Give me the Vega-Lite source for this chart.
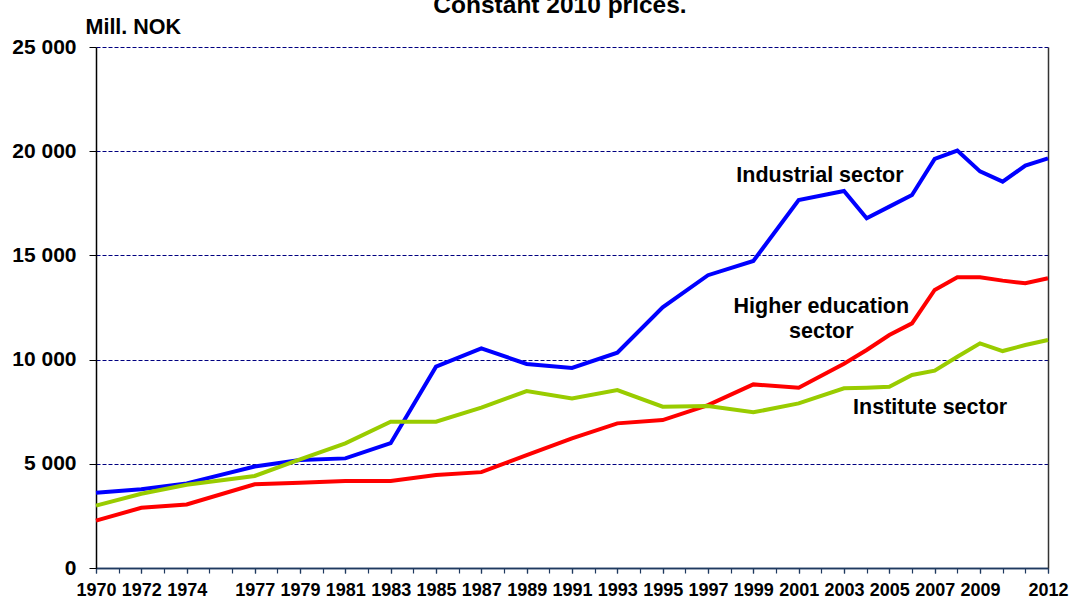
{
  "$schema": "https://vega.github.io/schema/vega-lite/v6.json",
  "autosize": {"type": "none"},
  "width": 952,
  "height": 521,
  "padding": {"left": 96, "top": 47, "right": 22, "bottom": 31},
  "background": "white",
  "config": {
    "font": "Liberation Sans",
    "view": {"stroke": null}
  },
  "title": {
    "text": "Constant 2010 prices.",
    "anchor": "middle",
    "frame": "group",
    "baseline": "alphabetic",
    "offset": 1,
    "dx": -12,
    "dy": 22,
    "fontSize": 24.5,
    "fontWeight": "bold",
    "color": "black"
  },
  "datasets": {
    "series": [
      {"year": 1970, "sector": "Industrial sector", "value": 3610},
      {"year": 1972, "sector": "Industrial sector", "value": 3780},
      {"year": 1974, "sector": "Industrial sector", "value": 4060},
      {"year": 1977, "sector": "Industrial sector", "value": 4870},
      {"year": 1979, "sector": "Industrial sector", "value": 5180},
      {"year": 1981, "sector": "Industrial sector", "value": 5260},
      {"year": 1983, "sector": "Industrial sector", "value": 5990},
      {"year": 1985, "sector": "Industrial sector", "value": 9660},
      {"year": 1987, "sector": "Industrial sector", "value": 10540},
      {"year": 1989, "sector": "Industrial sector", "value": 9790},
      {"year": 1991, "sector": "Industrial sector", "value": 9600},
      {"year": 1993, "sector": "Industrial sector", "value": 10330},
      {"year": 1995, "sector": "Industrial sector", "value": 12510},
      {"year": 1997, "sector": "Industrial sector", "value": 14050},
      {"year": 1999, "sector": "Industrial sector", "value": 14730},
      {"year": 2001, "sector": "Industrial sector", "value": 17660},
      {"year": 2003, "sector": "Industrial sector", "value": 18090},
      {"year": 2004, "sector": "Industrial sector", "value": 16780},
      {"year": 2005, "sector": "Industrial sector", "value": 17340},
      {"year": 2006, "sector": "Industrial sector", "value": 17900},
      {"year": 2007, "sector": "Industrial sector", "value": 19630},
      {"year": 2008, "sector": "Industrial sector", "value": 20030},
      {"year": 2009, "sector": "Industrial sector", "value": 19030},
      {"year": 2010, "sector": "Industrial sector", "value": 18540},
      {"year": 2011, "sector": "Industrial sector", "value": 19310},
      {"year": 2012, "sector": "Industrial sector", "value": 19660},
      {"year": 1970, "sector": "Higher education sector", "value": 2270},
      {"year": 1972, "sector": "Higher education sector", "value": 2890},
      {"year": 1974, "sector": "Higher education sector", "value": 3050},
      {"year": 1977, "sector": "Higher education sector", "value": 4015},
      {"year": 1979, "sector": "Higher education sector", "value": 4095},
      {"year": 1981, "sector": "Higher education sector", "value": 4175},
      {"year": 1983, "sector": "Higher education sector", "value": 4175},
      {"year": 1985, "sector": "Higher education sector", "value": 4460},
      {"year": 1987, "sector": "Higher education sector", "value": 4600},
      {"year": 1989, "sector": "Higher education sector", "value": 5420},
      {"year": 1991, "sector": "Higher education sector", "value": 6220},
      {"year": 1993, "sector": "Higher education sector", "value": 6940},
      {"year": 1995, "sector": "Higher education sector", "value": 7100},
      {"year": 1997, "sector": "Higher education sector", "value": 7820},
      {"year": 1999, "sector": "Higher education sector", "value": 8810},
      {"year": 2001, "sector": "Higher education sector", "value": 8650},
      {"year": 2003, "sector": "Higher education sector", "value": 9800},
      {"year": 2004, "sector": "Higher education sector", "value": 10460},
      {"year": 2005, "sector": "Higher education sector", "value": 11180},
      {"year": 2006, "sector": "Higher education sector", "value": 11740},
      {"year": 2007, "sector": "Higher education sector", "value": 13340},
      {"year": 2008, "sector": "Higher education sector", "value": 13950},
      {"year": 2009, "sector": "Higher education sector", "value": 13950},
      {"year": 2010, "sector": "Higher education sector", "value": 13790},
      {"year": 2011, "sector": "Higher education sector", "value": 13660},
      {"year": 2012, "sector": "Higher education sector", "value": 13900},
      {"year": 1970, "sector": "Institute sector", "value": 2990},
      {"year": 1972, "sector": "Institute sector", "value": 3560},
      {"year": 1974, "sector": "Institute sector", "value": 3990},
      {"year": 1977, "sector": "Institute sector", "value": 4415},
      {"year": 1979, "sector": "Institute sector", "value": 5216},
      {"year": 1981, "sector": "Institute sector", "value": 5983},
      {"year": 1983, "sector": "Institute sector", "value": 7022},
      {"year": 1985, "sector": "Institute sector", "value": 7022},
      {"year": 1987, "sector": "Institute sector", "value": 7694},
      {"year": 1989, "sector": "Institute sector", "value": 8490},
      {"year": 1991, "sector": "Institute sector", "value": 8140},
      {"year": 1993, "sector": "Institute sector", "value": 8540},
      {"year": 1995, "sector": "Institute sector", "value": 7740},
      {"year": 1997, "sector": "Institute sector", "value": 7770},
      {"year": 1999, "sector": "Institute sector", "value": 7470},
      {"year": 2001, "sector": "Institute sector", "value": 7900},
      {"year": 2003, "sector": "Institute sector", "value": 8620},
      {"year": 2004, "sector": "Institute sector", "value": 8650},
      {"year": 2005, "sector": "Institute sector", "value": 8700},
      {"year": 2006, "sector": "Institute sector", "value": 9260},
      {"year": 2007, "sector": "Institute sector", "value": 9470},
      {"year": 2008, "sector": "Institute sector", "value": 10140},
      {"year": 2009, "sector": "Institute sector", "value": 10780},
      {"year": 2010, "sector": "Institute sector", "value": 10410},
      {"year": 2011, "sector": "Institute sector", "value": 10700},
      {"year": 2012, "sector": "Institute sector", "value": 10940}
    ],
    "labels": [
      {"year": 2001.94, "value": 18810, "label": "Industrial sector"},
      {"year": 2002.0, "value": 12524, "label": "Higher education\nsector"},
      {"year": 2006.8, "value": 7678, "label": "Institute sector"}
    ]
  },
  "layer": [
    {
      "data": {"name": "series"},
      "mark": {"type": "line", "strokeWidth": 4, "strokeJoin": "miter", "clip": false},
      "encoding": {
        "x": {
          "field": "year",
          "type": "quantitative",
          "scale": {"domain": [1970, 2012], "nice": false, "zero": false},
          "axis": {
            "orient": "bottom",
            "title": null,
            "values": [1970,1972,1974,1977,1979,1981,1983,1985,1987,1989,1991,1993,1995,1997,1999,2001,2003,2005,2007,2009,2012],
            "format": "d",
            "domain": true,
            "domainColor": "#1f3a60",
            "domainWidth": 1.5,
            "ticks": true,
            "tickColor": "#1f3a60",
            "tickSize": 5,
            "tickWidth": 1.2,
            "grid": false,
            "labelOverlap": false,
            "labelBound": false,
            "labelFlush": false,
            "labelFont": "Liberation Sans",
            "labelFontSize": 18,
            "labelFontWeight": "bold",
            "labelColor": "black",
            "labelPadding": 8
          }
        },
        "y": {
          "field": "value",
          "type": "quantitative",
          "scale": {"domain": [0, 25000], "nice": false},
          "axis": {
            "values": [0, 5000, 10000, 15000, 20000, 25000],
            "labelExpr": "replace(format(datum.value, ','), ',', ' ')",
            "labelFont": "Liberation Sans",
            "labelFontSize": 21,
            "labelFontWeight": "bold",
            "labelColor": "black",
            "labelPadding": 13,
            "tickSize": 7,
            "tickColor": "black",
            "domainColor": "black",
            "domainWidth": 1.5,
            "grid": true,
            "gridColor": "#000080",
            "gridDash": [4, 2],
            "gridWidth": 1,
            "title": "Mill. NOK",
            "titleAngle": 0,
            "titleX": -11,
            "titleY": -14,
            "titleAlign": "left",
            "titleBaseline": "alphabetic",
            "titleFont": "Liberation Sans",
            "titleFontSize": 21.5,
            "titleFontWeight": "bold",
            "titleColor": "black"
          }
        },
        "color": {
          "field": "sector",
          "type": "nominal",
          "scale": {
            "domain": ["Industrial sector", "Higher education sector", "Institute sector"],
            "range": ["#0000ff", "#ff0000", "#99cc00"]
          },
          "legend": null
        }
      }
    },
    {
      "data": {"name": "labels"},
      "mark": {
        "type": "text",
        "font": "Liberation Sans",
        "fontSize": 21.5,
        "fontWeight": "bold",
        "color": "black",
        "align": "center",
        "baseline": "middle",
        "lineBreak": "\n",
        "lineHeight": 25
      },
      "encoding": {
        "x": {
          "field": "year",
          "type": "quantitative",
          "axis": {
            "orient": "bottom",
            "title": null,
            "values": [1970,1971,1972,1973,1974,1975,1976,1977,1978,1979,1980,1981,1982,1983,1984,1985,1986,1987,1988,1989,1990,1991,1992,1993,1994,1995,1996,1997,1998,1999,2000,2001,2002,2003,2004,2005,2006,2007,2008,2009,2010,2011,2012],
            "labels": false,
            "ticks": true,
            "domain": true,
            "domainColor": "#1f3a60",
            "domainWidth": 1.5,
            "tickColor": "#1f3a60",
            "tickSize": 5,
            "tickWidth": 1.2,
            "grid": false
          }
        },
        "y": {"field": "value", "type": "quantitative", "axis": {"orient": "right", "title": null, "labels": false, "ticks": false, "grid": false, "domainColor": "#333333", "domainWidth": 1.5}},
        "text": {"field": "label"}
      }
    }
  ],
  "resolve": {"axis": {"y": "independent", "x": "independent"}}
}
